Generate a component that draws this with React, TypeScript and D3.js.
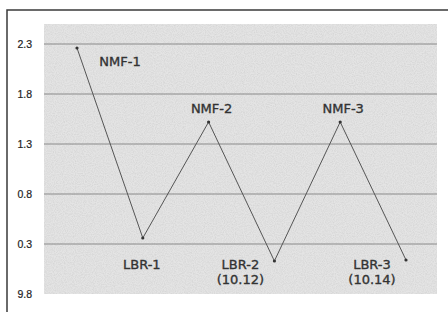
import React from "react";
import * as d3 from "d3";

const width = 448;
const height = 312;

// points along the line
const categories = ["NMF-1", "LBR-1", "NMF-2", "LBR-2", "NMF-3", "LBR-3"];
const values = [2.26, 0.36, 1.52, 0.13, 1.52, 0.14];
// second line under some labels
const subLabels = ["", "", "", "(10.12)", "", "(10.14)"];

// y ticks as printed (the bottom one reads "9.8" in the original)
const tickValues = [2.3, 1.8, 1.3, 0.8, 0.3, -0.2];
const tickLabels = ["2.3", "1.8", "1.3", "0.8", "0.3", "9.8"];

const plot = { left: 44, right: 437, top: 24, bottom: 294 };

export default function App() {
  const x = d3.scalePoint<string>().domain(categories).range([77, 406]);
  const y = d3.scaleLinear().domain([-0.2, 2.5]).range([plot.bottom, plot.top]);

  const line = d3
    .line<number>()
    .x((_, i) => x(categories[i]) as number)
    .y((d) => y(d));

  const font = "'DejaVu Sans', 'Noto Sans CJK JP', sans-serif";

  return (
    <svg
      width={width}
      height={height}
      style={{ position: "absolute", left: 0, top: 0, background: "#fff" }}
    >
      <defs>
        <filter id="grain" x="0" y="0" width="100%" height="100%">
          <feTurbulence type="fractalNoise" baseFrequency="0.9" numOctaves={2} seed={3} />
          <feColorMatrix
            type="matrix"
            values="0 0 0 0 0.45  0 0 0 0 0.45  0 0 0 0 0.45  0 0 0 -1.6 1.05"
          />
        </filter>
      </defs>

      {/* frame, open at right and bottom */}
      <path d={`M7,${height} V10 H${width}`} fill="none" stroke="#3a3a3a" strokeWidth={1.5} />

      {/* plot background */}
      <rect
        x={plot.left}
        y={plot.top}
        width={plot.right - plot.left}
        height={plot.bottom - plot.top}
        fill="#e4e4e4"
      />
      <rect
        x={plot.left}
        y={plot.top}
        width={plot.right - plot.left}
        height={plot.bottom - plot.top}
        filter="url(#grain)"
        opacity={0.35}
      />

      {/* gridlines */}
      {tickValues.slice(0, 5).map((t) => (
        <line
          key={t}
          x1={plot.left}
          x2={plot.right}
          y1={y(t)}
          y2={y(t)}
          stroke="#8a8a8a"
          strokeWidth={1}
        />
      ))}

      {/* tick labels */}
      {tickValues.map((t, i) => (
        <text
          key={t}
          x={32}
          y={y(t)}
          dy="0.35em"
          textAnchor="end"
          fontFamily="'Liberation Sans', Arial, sans-serif"
          fontSize={10.5}
          fill="#222"
          stroke="#222"
          strokeWidth={0.2}
        >
          {tickLabels[i]}
        </text>
      ))}

      {/* data line */}
      <path d={line(values) ?? ""} fill="none" stroke="#555" strokeWidth={1} />
      {values.map((v, i) => (
        <circle key={i} cx={x(categories[i])} cy={y(v)} r={1.6} fill="#333" />
      ))}

      {/* point labels */}
      {categories.map((c, i) => {
        const px = x(c) as number;
        const top = c.startsWith("NMF");
        const lx = top ? px + (i === 0 ? 43 : 3) : px - (i === 1 ? 1 : 34);
        const ly = top ? (i === 0 ? 61 : 108) : 264;
        return (
          <g
            key={c}
            fontFamily={font}
            fontSize={13}
            fill="#333"
            stroke="#333"
            strokeWidth={0.35}
            textAnchor="middle"
          >
            <text x={lx} y={ly} dy="0.35em">
              {c}
            </text>
            {subLabels[i] && (
              <text x={lx} y={ly + 15} dy="0.35em">
                {subLabels[i]}
              </text>
            )}
          </g>
        );
      })}
    </svg>
  );
}
